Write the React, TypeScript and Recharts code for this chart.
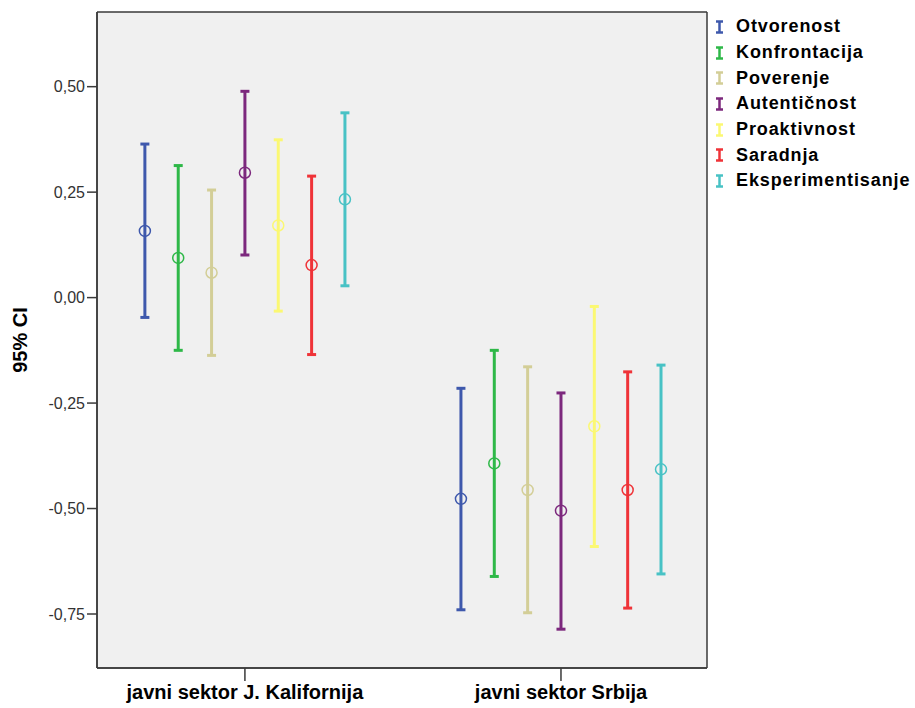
import {
  CartesianGrid,
  ErrorBar,
  Scatter,
  ScatterChart,
  XAxis,
  YAxis,
} from "recharts";

const GROUPS = ["javni sektor J. Kalifornija", "javni sektor Srbija"];

const MEASURES = [
  "Otvorenost",
  "Konfrontacija",
  "Poverenje",
  "Autentičnost",
  "Proaktivnost",
  "Saradnja",
  "Eksperimentisanje",
];

const COLORS = [
  "#3E58AC",
  "#2EB848",
  "#D3CE97",
  "#7C287D",
  "#FBF873",
  "#EF3338",
  "#48C2C5",
];

// means and 95% CI bounds, per group
const MEAN_KAL = [0.158, 0.094, 0.059, 0.296, 0.171, 0.077, 0.233];
const LOW_KAL = [-0.047, -0.125, -0.137, 0.101, -0.032, -0.135, 0.028];
const HIGH_KAL = [0.364, 0.313, 0.255, 0.489, 0.374, 0.288, 0.438];

const MEAN_SRB = [-0.477, -0.393, -0.456, -0.505, -0.305, -0.456, -0.407];
const LOW_SRB = [-0.74, -0.661, -0.747, -0.786, -0.59, -0.736, -0.655];
const HIGH_SRB = [-0.215, -0.125, -0.164, -0.226, -0.021, -0.176, -0.16];

const Y_TICKS = [-0.75, -0.5, -0.25, 0, 0.25, 0.5];
const X_TICKS = [0, 1];

const X_DOMAIN = [-0.468, 1.462];
const Y_DOMAIN = [-0.878, 0.677];
const SPREAD = 0.1055; // gap between measures inside a group

const AXIS = "#3a3a3a";
const FONT = "Arial, 'Liberation Sans', sans-serif";

const seriesData = (j: number) => [
  {
    x: 0 + (j - 3) * SPREAD,
    y: MEAN_KAL[j],
    err: [MEAN_KAL[j] - LOW_KAL[j], HIGH_KAL[j] - MEAN_KAL[j]],
  },
  {
    x: 1 + (j - 3) * SPREAD,
    y: MEAN_SRB[j],
    err: [MEAN_SRB[j] - LOW_SRB[j], HIGH_SRB[j] - MEAN_SRB[j]],
  },
];

const fmt = (v: number) => v.toFixed(2).replace(".", ",");

const LegendBox = () => (
  <div
    style={{
      position: "absolute",
      left: 712,
      top: 14,
      fontFamily: FONT,
      fontWeight: "bold",
      fontSize: 18,
      letterSpacing: 0.9,
      color: "#000",
    }}
  >
    {MEASURES.map((m, i) => (
      <div
        key={m}
        style={{ height: 25.7, display: "flex", alignItems: "center" }}
      >
        <svg width={23} height={14} style={{ flex: "none" }}>
          <g stroke={COLORS[i]} strokeWidth={2.5}>
            <line x1={7.5} y1={1} x2={7.5} y2={13} />
            <line x1={4} y1={1.5} x2={11} y2={1.5} />
            <line x1={4} y1={12.5} x2={11} y2={12.5} />
          </g>
        </svg>
        <span style={{ marginLeft: 1 }}>{m}</span>
      </div>
    ))}
  </div>
);

const YLabel = () => (
  <text
    x={27}
    y={340}
    transform="rotate(-90 27 340)"
    textAnchor="middle"
    fontFamily={FONT}
    fontWeight="bold"
    fontSize={20}
    fill="#000"
  >
    95% CI
  </text>
);

const App = () => {
  return (
    <div style={{ position: "absolute", left: 0, top: 0, width: 915, height: 708 }}>
      <ScatterChart
        width={915}
        height={708}
        margin={{ top: 12, right: 208, bottom: 0, left: 0 }}
      >
        <CartesianGrid
          fill="#F0F0F0"
          stroke={AXIS}
          strokeWidth={1.5}
          strokeDasharray=""
          horizontalCoordinatesGenerator={({ offset }: any) => [
            offset.top,
            offset.top + offset.height,
          ]}
          verticalCoordinatesGenerator={({ offset }: any) => [
            offset.left,
            offset.left + offset.width,
          ]}
        />
        <XAxis
          type="number"
          dataKey="x"
          domain={X_DOMAIN}
          allowDataOverflow
          ticks={X_TICKS}
          tickFormatter={(v: number) => GROUPS[v] ?? ""}
          height={40}
          tickSize={13}
          tickMargin={4}
          stroke={AXIS}
          axisLine={{ stroke: AXIS, strokeWidth: 1.5 }}
          tickLine={{ stroke: AXIS, strokeWidth: 1.5 }}
          tick={{
            fill: "#000",
            fontFamily: FONT,
            fontWeight: "bold",
            fontSize: 20,
          }}
        />
        <YAxis
          type="number"
          dataKey="y"
          domain={Y_DOMAIN}
          allowDataOverflow
          ticks={Y_TICKS}
          tickFormatter={fmt}
          width={97}
          tickSize={10}
          tickMargin={2}
          axisLine={{ stroke: AXIS, strokeWidth: 1.5 }}
          tickLine={{ stroke: AXIS, strokeWidth: 1.5 }}
          tick={{ fill: "#333", fontFamily: FONT, fontSize: 16 }}
          label={YLabel}
        />
        {MEASURES.map((m, j) => (
          <Scatter
            key={m}
            name={m}
            data={seriesData(j)}
            isAnimationActive={false}
            shape={(p: any) => (
              <circle
                cx={p.cx}
                cy={p.cy}
                r={5.5}
                fill="none"
                stroke={COLORS[j]}
                strokeWidth={1.5}
              />
            )}
          >
            <ErrorBar
              dataKey="err"
              direction="y"
              width={4.5}
              strokeWidth={3}
              stroke={COLORS[j]}
              isAnimationActive={false}
            />
          </Scatter>
        ))}
      </ScatterChart>
      <LegendBox />
    </div>
  );
};

export default App;
